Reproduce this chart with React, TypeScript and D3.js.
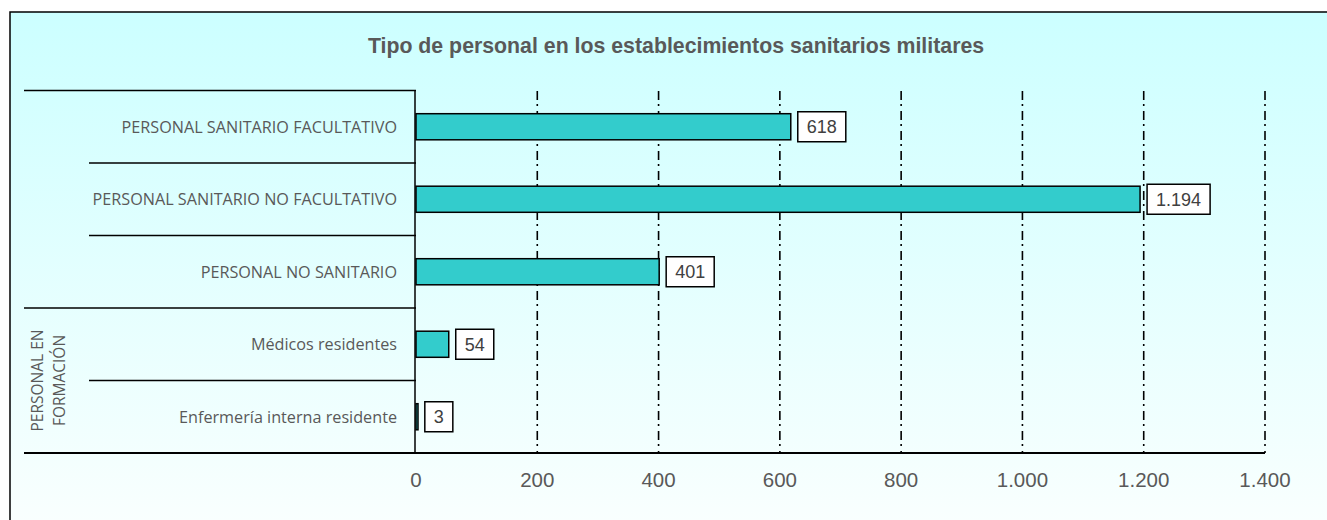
import React from "react";
import * as d3 from "d3";

const categories = [
  "PERSONAL SANITARIO FACULTATIVO",
  "PERSONAL SANITARIO NO FACULTATIVO",
  "PERSONAL NO SANITARIO",
  "Médicos residentes",
  "Enfermería interna residente",
];
const values = [618, 1194, 401, 54, 3];
const ticks = [0, 200, 400, 600, 800, 1000, 1200, 1400];
const groupLabel = ["PERSONAL EN", "FORMACIÓN"];
const title = "Tipo de personal en los establecimientos sanitarios militares";

const fmt = (v: number) => d3.format(",")(v).replace(/,/g, ".");

export default function App() {
  const W = 1327, H = 520;
  const x = d3.scaleLinear().domain([0, 1400]).range([416, 1265]);
  const y = d3.scaleBand().domain(categories).range([90.5, 453]).paddingInner(0).paddingOuter(0);
  const bw = y.bandwidth();
  const barH = bw * 0.36;
  const gray = "#595959";
  const sepStart = [24, 89, 89, 24, 89];
  const labelFont = 18;
  const charW = (ch: string) => (ch === "." ? 0.278 : 0.556) * labelFont;

  return (
    <svg width={W} height={H} style={{ position: "absolute", left: 0, top: 0, display: "block" }}>
      <defs>
        <linearGradient id="bg" x1="0" y1="0" x2="0" y2="1">
          <stop offset="0" stopColor="#ccffff" />
          <stop offset="1" stopColor="#fafffe" />
        </linearGradient>
      </defs>
      <rect x={10} y={12} width={1330} height={520} fill="url(#bg)" stroke="#000" strokeWidth={1.5} />
      <text x={676} y={53} textAnchor="middle" fontFamily="Liberation Sans, Arial" fontWeight="bold" fontSize={21.3} fill={gray}>
        {title}
      </text>
      {/* gridlines */}
      {ticks.filter((t) => t > 0).map((t) => (
        <line key={t} x1={x(t)} x2={x(t)} y1={91} y2={453} stroke="#000" strokeWidth={1.6} strokeDasharray="9,4,2,5" />
      ))}
      {/* category separators */}
      {categories.map((c, i) => (
        <line key={c} x1={sepStart[i]} x2={416} y1={y(c)!} y2={y(c)!} stroke="#000" strokeWidth={1.5} />
      ))}
      <line x1={24} x2={1265} y1={453} y2={453} stroke="#000" strokeWidth={2} />
      <line x1={415} x2={415} y1={90} y2={453} stroke="#000" strokeWidth={1.5} />
      {/* bars */}
      {categories.map((c, i) => {
        const cy = y(c)! + bw / 2;
        const x1 = x(values[i]);
        const label = fmt(values[i]);
        const tw = label.split("").reduce((s, ch) => s + charW(ch), 0);
        const boxW = tw + 18;
        const bx = Math.max(x1, 416) + 7;
        return (
          <g key={c}>
            <rect x={x(0)} y={cy - barH / 2} width={Math.max(x1 - x(0), 2)} height={barH} fill="#33cccc" stroke="#000" strokeWidth={1.5} />
            <rect x={bx} y={cy - 15} width={boxW} height={30} fill="#fff" stroke="#000" strokeWidth={1.5} />
            <text x={bx + boxW / 2} y={cy + 6.5} textAnchor="middle" fontFamily="Liberation Sans, Arial" fontSize={labelFont} fill="#404040">
              {label}
            </text>
            <text x={397} y={cy + 6} textAnchor="end" fontFamily="Open Sans" fontSize={16.2} fill={gray}>
              {c}
            </text>
          </g>
        );
      })}
      {/* group label */}
      <g transform={`translate(0, ${(y(categories[3])! + 453) / 2}) rotate(-90)`}>
        {groupLabel.map((l, i) => (
          <text key={l} x={0} y={43 + i * 22} textAnchor="middle" fontFamily="Open Sans" fontSize={15.5} fill={gray}>
            {l}
          </text>
        ))}
      </g>
      {/* axis labels */}
      {ticks.map((t) => (
        <text key={t} x={x(t)} y={487} textAnchor="middle" fontFamily="Liberation Sans, Arial" fontSize={20.5} fill={gray}>
          {fmt(t)}
        </text>
      ))}
    </svg>
  );
}
